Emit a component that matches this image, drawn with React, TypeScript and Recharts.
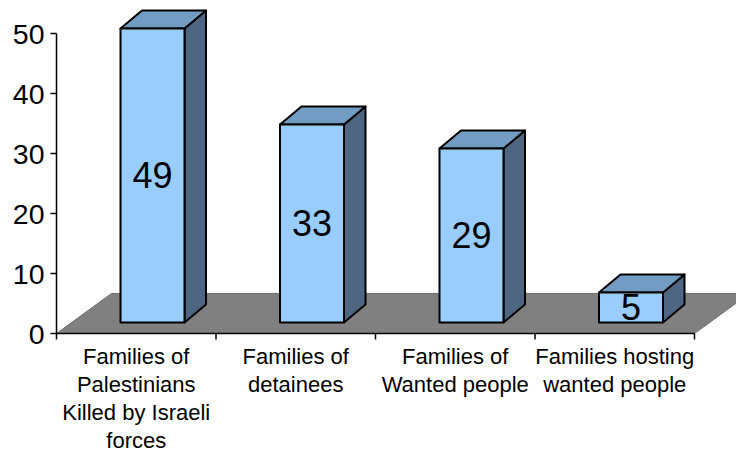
import { BarChart, Bar, XAxis, YAxis, ReferenceArea, LabelList } from 'recharts';

const categories = [
  'Families of\nPalestinians\nKilled by Israeli\nforces',
  'Families of\ndetainees',
  'Families of\nWanted people',
  'Families hosting\nwanted people',
];
const familyCounts = [49, 33, 29, 5];
const yTicks = [0, 10, 20, 30, 40, 50];

const data = categories.map((name, i) => ({ name, value: familyCounts[i] }));

const FONT = '"Liberation Sans", Arial, sans-serif';
const WIDTH = 736;
const HEIGHT = 452;
const PLOT_LEFT = 56.5;
const PLOT_RIGHT = 694.5;
const BAND = (PLOT_RIGHT - PLOT_LEFT) / categories.length;

// bars stand on the floor, pushed back from the axis plane
const SHIFT_X = 16;
const SHIFT_Y = 11;
const DEPTH_X = 21.5;
const DEPTH_Y = 18;
const FLOOR_DX = 55;

function Bar3D({ x, y, width, height }: any) {
  const left = x + SHIFT_X;
  const right = left + width;
  const top = y - SHIFT_Y;
  const bottom = top + height;
  const stroke = { stroke: '#000', strokeWidth: 2, strokeLinejoin: 'round' as const };
  return (
    <g>
      <polygon
        points={`${right},${top} ${right + DEPTH_X},${top - DEPTH_Y} ${right + DEPTH_X},${bottom - DEPTH_Y} ${right},${bottom}`}
        fill='#4F6682'
        {...stroke}
      />
      <polygon
        points={`${left},${top} ${left + DEPTH_X},${top - DEPTH_Y} ${right + DEPTH_X},${top - DEPTH_Y} ${right},${top}`}
        fill='#729CC3'
        {...stroke}
      />
      <rect x={left} y={top} width={width} height={height} fill='#99CCFF' {...stroke} />
    </g>
  );
}

function Floor({ x, y, width, height }: any) {
  return (
    <polygon
      points={`${x},${y + height} ${x + FLOOR_DX},${y} ${x + width + FLOOR_DX},${y} ${x + width},${y + height}`}
      fill='#808080'
      stroke='#6e6e6e'
      strokeWidth={1}
    />
  );
}

function CategoryTick({ x, y, payload, index }: any) {
  const lines = String(payload.value).split('\n');
  const tickX = x - BAND / 2;
  return (
    <g>
      <line x1={tickX} x2={tickX} y1={y} y2={y + 6} stroke='#000' strokeWidth={1.5} />
      {index === categories.length - 1 && (
        <line x1={x + BAND / 2} x2={x + BAND / 2} y1={y} y2={y + 6} stroke='#000' strokeWidth={1.5} />
      )}
      <text textAnchor='middle' fontFamily={FONT} fontSize={22} fill='#000'>
        {lines.map((line, i) => (
          <tspan key={i} x={x} y={y + 30 + i * 28.3}>
            {line}
          </tspan>
        ))}
      </text>
    </g>
  );
}

function CountLabel({ x, y, width, height, value }: any) {
  return (
    <text
      x={x + SHIFT_X + width / 2}
      y={y - SHIFT_Y + height / 2}
      dy='0.36em'
      textAnchor='middle'
      fontFamily={FONT}
      fontSize={36}
      fill='#000'
    >
      {value}
    </text>
  );
}

export default function App() {
  return (
    <div style={{ width: WIDTH, height: HEIGHT }}>
      <style>{'body{margin:0;background:#fff}'}</style>
      <BarChart
        width={WIDTH}
        height={HEIGHT}
        data={data}
        margin={{ top: 33.5, right: WIDTH - PLOT_RIGHT, bottom: 0, left: 0 }}
        barCategoryGap={0}
      >
        <ReferenceArea y1={0} y2={6.67} shape={<Floor />} ifOverflow='visible' />
        <XAxis
          dataKey='name'
          height={118.5}
          interval={0}
          tickLine={false}
          tickSize={0}
          tickMargin={0}
          axisLine={{ stroke: '#000', strokeWidth: 1.5 }}
          tick={<CategoryTick />}
        />
        <YAxis
          width={PLOT_LEFT}
          domain={[0, 50]}
          ticks={yTicks}
          interval={0}
          tickSize={6}
          tickMargin={6}
          axisLine={{ stroke: '#000', strokeWidth: 1.5 }}
          tickLine={{ stroke: '#000', strokeWidth: 1.5 }}
          tick={{ fill: '#000', fontSize: 28.5, fontFamily: FONT }}
        />
        <Bar dataKey='value' barSize={64} shape={<Bar3D />} isAnimationActive={false}>
          <LabelList dataKey='value' content={<CountLabel />} />
        </Bar>
      </BarChart>
    </div>
  );
}
